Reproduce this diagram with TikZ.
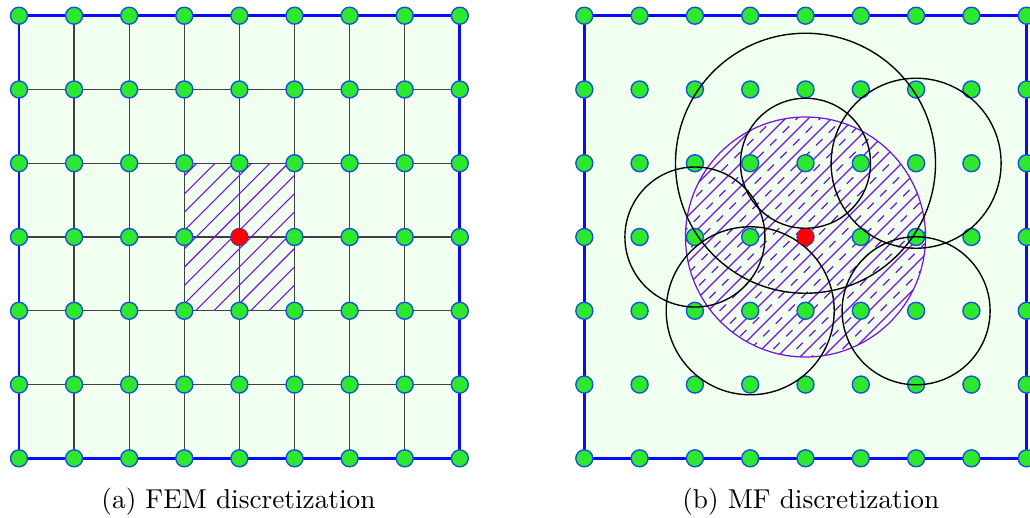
\documentclass[tikz,border=0pt]{standalone}
\usepackage{tikz}
\definecolor{bgfill}{RGB}{240,255,240}
\definecolor{dotfill}{RGB}{45,232,45}
\definecolor{dotline}{RGB}{20,80,220}
\definecolor{bordercol}{RGB}{10,10,255}
\definecolor{hatchcol}{RGB}{115,20,220}
\def\u{0.3663pt}
\tikzset{
  dotnode/.style={circle,fill=dotfill,draw=dotline,line width=0.5pt,minimum size=17*\u,inner sep=0pt},
  reddot/.style={circle,fill=red,minimum size=17*\u,inner sep=0pt},
  borderline/.style={draw=bordercol,line width=1pt},
  gridline/.style={draw=black!75,line width=0.5pt},
  hatchline/.style={draw=hatchcol,line width=0.4pt},
  hatchdash/.style={draw=hatchcol,line width=0.4pt,dash pattern=on 9*\u off 9*\u},
  supportcircle/.style={draw=black,line width=0.5pt},
  domaincircle/.style={draw=hatchcol,line width=0.45pt},
  captiontext/.style={anchor=base,inner sep=0pt}
}
\begin{document}
\begin{tikzpicture}[x=\u,y=-\u]
\useasboundingbox (0,0) rectangle (1030,517);
\clip (0,0) rectangle (1030,517);
% coordinates
\foreach \i in {0,...,8}{
  \foreach \j in {0,...,6}{
    \coordinate (p-\i-\j) at ({19+55.1*\i},{15.7+73.77*\j});
    \coordinate (q-\i-\j) at ({584.3+55.3*\i},{15.7+73.77*\j});
  }
}
% ---------- left panel ----------
\fill[bgfill] (p-0-0) rectangle (p-8-6);
\foreach \i in {1,...,7} \draw[gridline] (p-\i-0) -- (p-\i-6);
\foreach \j in {1,...,5} \draw[gridline] (p-0-\j) -- (p-8-\j);
\begin{scope}
  \clip (p-3-2) rectangle (p-5-4);
  \foreach \k in {-3,...,15}{
    \pgfmathsetmacro{\c}{378.3+18.3*\k}
    \draw[hatchline] ({\c-100},100) -- ({\c-400},400);
  }
\end{scope}
\draw[borderline] (p-0-0) rectangle (p-8-6);
\foreach \i in {0,...,8}{
  \foreach \j in {0,...,6}{
    \node[dotnode] (a-\i-\j) at (p-\i-\j) {};
  }
}
\node[reddot] (ared) at (p-4-3) {};
% ---------- right panel ----------
\fill[bgfill] (q-0-0) rectangle (q-8-6);
\draw[borderline] (q-0-0) rectangle (q-8-6);
\begin{scope}
  \clip (q-4-3) circle[radius=120*\u];
  \foreach \k in {-14,...,14}{
    \pgfmathsetmacro{\c}{1042+23*\k}
    \draw[hatchline] ({\c-50},50) -- ({\c-450},450);
    \pgfmathsetmacro{\d}{1042+11.5+23*\k}
    \draw[hatchdash] ({\d-50},50) -- ({\d-450},450);
  }
\end{scope}
\draw[domaincircle] (q-4-3) circle[radius=120*\u];
\foreach \i in {0,...,8}{
  \foreach \j in {0,...,6}{
    \node[dotnode] (b-\i-\j) at (q-\i-\j) {};
  }
}
\draw[supportcircle] (b-4-2.center) circle[radius=130*\u];
\draw[supportcircle] (b-4-2.center) circle[radius=65*\u];
\draw[supportcircle] (b-6-2.center) circle[radius=85*\u];
\draw[supportcircle] (b-2-3.center) circle[radius=70*\u];
\draw[supportcircle] (b-3-4.center) circle[radius=84*\u];
\draw[supportcircle] (b-6-4.center) circle[radius=74*\u];
\node[reddot] (bred) at (q-4-3) {};
% ---------- captions ----------
\node[captiontext] (capa) at (238.5,508) {(a) FEM discretization};
\node[captiontext] (capb) at (810.8,508) {(b) MF discretization};
\end{tikzpicture}
\end{document}
